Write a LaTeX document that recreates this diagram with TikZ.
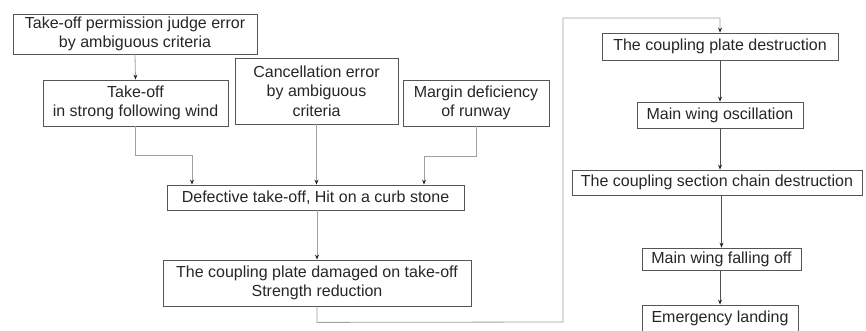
\documentclass[tikz,border=0pt]{standalone}
\usepackage{fontspec}
\setmainfont{Liberation Sans}
\usetikzlibrary{arrows.meta}
\definecolor{boxgray}{HTML}{555555}
\definecolor{lightline}{HTML}{A0A0A0}
\definecolor{darkline}{HTML}{505050}
\tikzset{
    stepbox/.style={draw=boxgray, line width=0.8pt, align=center, inner sep=1pt,
        font=\fontsize{16}{19.5}\selectfont, text=black!85},
    leftarr/.style={draw=lightline, line width=0.8pt, -{Stealth[length=5pt,width=4pt,color=black!85]}},
    rightarr/.style={draw=darkline, line width=0.8pt, -{Stealth[length=5pt,width=4pt,color=black!85]}}
}
\begin{document}
\begin{tikzpicture}[x=1pt, y=-1pt]
    % Picture frame, 866 x 331
    \useasboundingbox (0,0) rectangle (866,331);
    \clip (0,0) rectangle (866,331);

    % Left part: causes
    \node[stepbox, minimum width=244pt, minimum height=40pt] (judge) at (135,34)
        {Take-off permission judge error\\by ambiguous criteria};
    \node[stepbox, minimum width=185pt, minimum height=46pt] (wind) at (135.5,103)
        {Take-off\\in strong following wind};
    \node[stepbox, minimum width=163pt, minimum height=66pt] (cancel) at (316.5,91)
        {Cancellation error\\by ambiguous\\criteria};
    \node[stepbox, minimum width=146pt, minimum height=46pt] (margin) at (476,103)
        {Margin deficiency\\of runway};
    \node[stepbox, minimum width=297pt, minimum height=25pt] (curb) at (315.5,197.5)
        {Defective take-off, Hit on a curb stone};
    \node[stepbox, minimum width=308pt, minimum height=46pt] (damaged) at (317,283)
        {The coupling plate damaged on take-off\\Strength reduction};

    % Right part: consequences
    \node[stepbox, minimum width=236pt, minimum height=27pt] (plate) at (720,46.5)
        {The coupling plate destruction};
    \node[stepbox, minimum width=166pt, minimum height=26pt] (oscil) at (720,115)
        {Main wing oscillation};
    \node[stepbox, minimum width=290pt, minimum height=25pt] (chain) at (717,182.5)
        {The coupling section chain destruction};
    \node[stepbox, minimum width=159pt, minimum height=22pt] (falling) at (721.5,259)
        {Main wing falling off};
    \node[stepbox, minimum width=156pt, minimum height=27pt] (landing) at (720,318.5)
        {Emergency landing};

    % Connectors
    \draw[leftarr] (judge.south) -- (wind.north);
    \draw[leftarr] (wind.south) -- ++(0,29) -| ([xshift=-123.5pt]curb.north);
    \draw[leftarr] (cancel.south) -- (cancel.south |- curb.north);
    \draw[leftarr] (margin.south) -- ++(0,30) -| ([xshift=108.5pt]curb.north);
    \draw[leftarr] (curb.south -| damaged.north) -- (damaged.north);
    \draw[leftarr] (damaged.south) -- ++(0,16) -- (563,322) -- (563,18) -| (plate.north);

    \draw[rightarr] (plate.south) -- (oscil.north);
    \draw[rightarr] (oscil.south) -- (oscil.south |- chain.north);
    \draw[rightarr] (chain.south -| falling.north) -- (falling.north);
    \draw[rightarr] (falling.south -| landing.north) -- (landing.north);
\end{tikzpicture}
\end{document}
